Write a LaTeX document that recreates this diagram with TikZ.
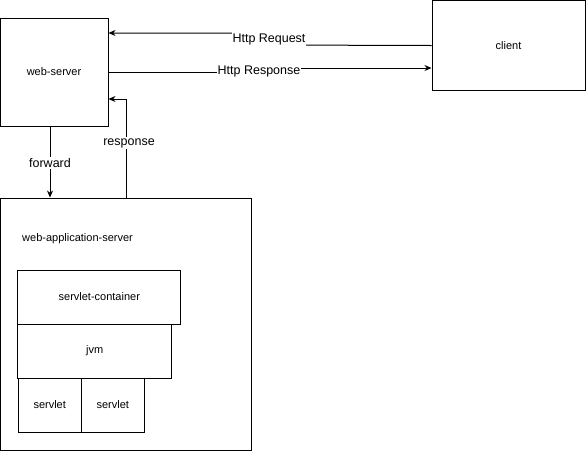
\documentclass[tikz,border=0pt]{standalone}
\usepackage{fontspec}
\setmainfont{Liberation Sans}
\usetikzlibrary{arrows.meta}
\begin{document}
\begin{tikzpicture}[x=1pt,y=-1pt,
  box/.style={draw=black,line width=1pt,fill=white,inner sep=0pt,font=\fontsize{11}{13}\selectfont},
  conn/.style={draw=black,line width=1pt,-{Stealth[length=7pt,width=6pt]}},
  elabel/.style={fill=white,inner sep=1pt,font=\fontsize{12.5}{14}\selectfont}]
\useasboundingbox (0,0) rectangle (586,451);
\node[box,minimum width=108pt,minimum height=108pt] (ws) at (54,72) {web-server};
\node[box,minimum width=153pt,minimum height=90pt] (client) at (508.5,45.5) {client};
\node[box,minimum width=251pt,minimum height=252pt] (was) at (126,324) {};
\node[font=\fontsize{11}{13}\selectfont,anchor=west,inner sep=0pt] (waslabel) at (22,239) {web-application-server};
\node[box,minimum width=162.7pt,minimum height=54pt] (sc) at (99.3,297) {servlet-container};
\node[box,minimum width=153.7pt,minimum height=54pt] (jvm) at (94.8,351) {jvm};
\node[box,minimum width=63.3pt,minimum height=54pt] (s1) at (49.7,405) {servlet};
\node[box,minimum width=63pt,minimum height=54pt] (s2) at (112.8,405) {servlet};
% Http Request
\coordinate (rq1) at (269,45);
\coordinate (rq2) at (269,33);
\draw[conn] (client.west) -- (rq1) -- (rq2) -- (ws.east |- rq2);
\node[elabel] (rqlabel) at (269,39) {Http Request};
% Http Response
\coordinate (rs1) at (259,72);
\coordinate (rs2) at (259,68);
\draw[conn] (ws.east) -- (rs1) -- (rs2) -- (client.west |- rs2);
\node[elabel] (rslabel) at (259,71.5) {Http Response};
% forward
\coordinate (fw1) at (50,126);
\draw[conn] (fw1) -- (was.north -| fw1);
\node[elabel] (fwlabel) at (50,163) {forward};
% response
\coordinate (rp1) at (126,198);
\coordinate (rp2) at (126,99);
\draw[conn] (rp1) -- (rp2) -- (ws.east |- rp2);
\node[elabel] (rplabel) at (129,143) {response};
\end{tikzpicture}
\end{document}
